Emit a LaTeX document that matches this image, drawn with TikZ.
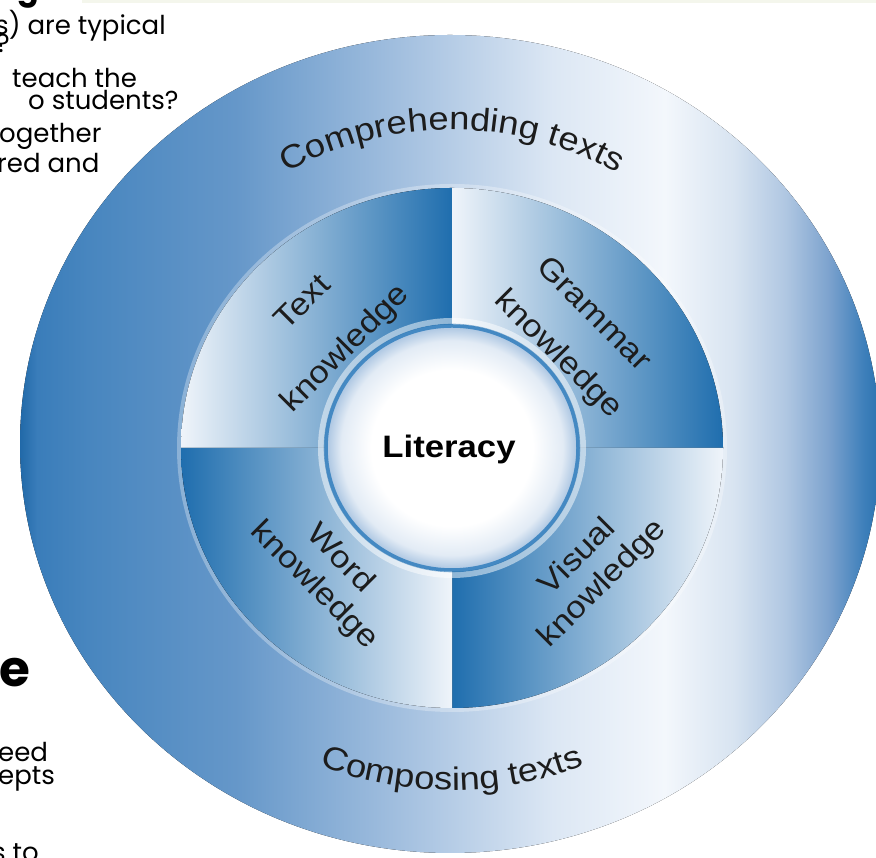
\documentclass[tikz,border=0pt]{standalone}
\usepackage{fontspec}
\setmainfont{Liberation Sans}
\newfontfamily\dfont{Liberation Sans}[FakeStretch=1.12]
\newfontfamily\sfont{Poppins}
\usetikzlibrary{decorations.text,calc}
\definecolor{txt}{HTML}{1C1C1C}
\definecolor{qdark}{HTML}{1F6EAE}
\definecolor{qmid}{HTML}{9BB9DC}
\definecolor{qlight}{HTML}{EFF4FA}
\definecolor{strip}{HTML}{F4F6EC}
\definecolor{litmid}{HTML}{E2EBF5}
\definecolor{litedge}{HTML}{A9C4E1}
\definecolor{litrim}{HTML}{4489C3}
\definecolor{o0}{HTML}{2169A8}
\definecolor{o1}{HTML}{3A7DBA}
\definecolor{o2}{HTML}{4886BF}
\definecolor{o3}{HTML}{6597C9}
\definecolor{o4}{HTML}{A5C1E0}
\definecolor{o5}{HTML}{DCE7F4}
\definecolor{o6}{HTML}{F3F7FC}
\definecolor{o7}{HTML}{D8E4F1}
\definecolor{o8}{HTML}{B0C7E2}
\definecolor{o9}{HTML}{7DA3CE}
\definecolor{o10}{HTML}{3F80BB}
\definecolor{o11}{HTML}{2A73B0}
\pgfdeclarehorizontalshading{outerring}{100bp}{color(0bp)=(o0); color(25bp)=(o0); color(26bp)=(o1); color(29bp)=(o2); color(37.5bp)=(o3); color(47.5bp)=(o4); color(56bp)=(o5); color(62.5bp)=(o6); color(66.5bp)=(o7); color(69.5bp)=(o8); color(72bp)=(o9); color(74bp)=(o10); color(75bp)=(o11); color(100bp)=(o11)}
\pgfdeclareradialshading{litshade}{\pgfpoint{0bp}{0bp}}{color(0bp)=(white); color(16bp)=(white); color(22bp)=(litmid); color(25bp)=(litedge); color(50bp)=(litedge)}
\tikzset{
  lbl/.style={font=\dfont\fontsize{31}{37}\selectfont, text=txt, inner sep=0pt},
  bgtext/.style={font=\sfont\fontsize{26}{30}\selectfont, text=black, inner sep=0pt, anchor=base west},
  bghead/.style={font=\sfont\bfseries\fontsize{50}{54}\selectfont, text=black, inner sep=0pt, anchor=base west},
  curvetext/.style={decorate, decoration={text along path, text align=center, text color=txt,
      text={|\dfont\fontsize{32.5}{38}\selectfont|#1}}}
}
\begin{document}
\begin{tikzpicture}[x=1pt,y=1pt]
\clip (0,0) rectangle (876,858);
\fill[white] (0,0) rectangle (876,858);
\fill[strip] (82,854.5) rectangle (876,858);
% background slide text (cut off)
\node[bghead, font=\sfont\bfseries\fontsize{32}{36}\selectfont] (h1) at (-4,858.5) {age};
\node[bgtext] (t1) at (-5,823) {s) are typical};
\node[bgtext] (t2) at (-4,805) {?};
\node[bgtext] (t3) at (12,770) {teach the};
\node[bgtext] (t4) at (28,748) {o students?};
\node[bgtext] (t5) at (-1,715) {ogether};
\node[bgtext] (t6) at (-3,685) {red and};
\node[bghead] (h2) at (-1,171) {e};
\node[bgtext] (t7) at (-2,96) {eed};
\node[bgtext] (t8) at (-2,73) {epts};
\node[bgtext] (t9) at (-8,-4) {s to};
% diagram
\coordinate (O) at (450,414);
\coordinate (C) at (452,410);
\fill[shading=outerring] (O) ellipse [x radius=430, y radius=409];
\draw[white, opacity=0.3, line width=4] (C) ellipse [x radius=273, y radius=262];
\fill[left color=qlight, middle color=qmid, right color=qdark]
  (C) -- ++(-271,0) arc[start angle=180, end angle=90, x radius=271, y radius=260] -- cycle;
\fill[left color=qlight, middle color=qmid, right color=qdark]
  (C) -- ++(0,260) arc[start angle=90, end angle=0, x radius=271, y radius=260] -- cycle;
\fill[left color=qdark, middle color=qmid, right color=qlight]
  (C) -- ++(271,0) arc[start angle=0, end angle=-90, x radius=271, y radius=260] -- cycle;
\fill[left color=qdark, middle color=qmid, right color=qlight]
  (C) -- ++(0,-260) arc[start angle=-90, end angle=-180, x radius=271, y radius=260] -- cycle;
\draw[white, opacity=0.5, line width=6] (C) ellipse [x radius=131, y radius=127];
\fill[shading=litshade] (C) ellipse [x radius=126, y radius=122];
\draw[litrim, line width=3.5] (C) ellipse [x radius=126, y radius=122];
\draw[qdark, opacity=0.4, line width=0.6] (C) ellipse [x radius=128, y radius=124];
\node[font=\dfont\bfseries\fontsize{31}{37}\selectfont, text=black, inner sep=0pt, anchor=base] (lit) at (449,400) {Literacy};
% quadrant labels
\node[lbl, rotate=45] (tl1) at (302,556) {Text};
\node[lbl, rotate=45] (tl2) at (346,509) {knowledge};
\node[lbl, rotate=-45] (tr1) at (595,545) {Grammar};
\node[lbl, rotate=-45] (tr2) at (558,503) {knowledge};
\node[lbl, rotate=-45] (bl1) at (342,301) {Word};
\node[lbl, rotate=-45] (bl2) at (314,272) {knowledge};
\node[lbl, rotate=45] (br1) at (576,303) {Visual};
\node[lbl, rotate=45] (br2) at (603,274) {knowledge};
% curved ring texts
\path[curvetext={Comprehending texts}] ($(C)+(150:330 and 318)$) arc[start angle=150, end angle=30, x radius=330, y radius=318];
\path[curvetext={Composing texts}] ($(C)+(205:355 and 342)$) arc[start angle=205, end angle=335, x radius=355, y radius=342];
\end{tikzpicture}
\end{document}
